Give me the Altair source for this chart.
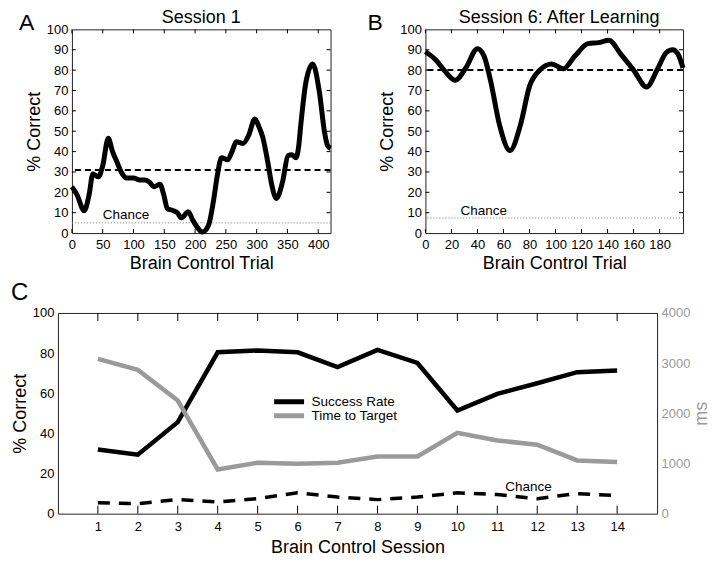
import altair as alt
import pandas as pd

FONT = "Liberation Sans"
GRAY = "#9a9a9a"
AXGRAY = "#9a9a9a"

# ---------------- Panel A: Session 1 ----------------
a_trial = [0, 8, 20, 28, 34, 43, 50, 59, 66, 73, 80, 89, 100, 110, 119, 126, 133, 143, 149, 155,
           165, 171, 178, 189, 196, 202, 212, 222, 230, 236, 243, 253, 260, 267, 278, 287, 297, 304, 310, 318,
           325, 332, 342, 351, 357, 364, 368, 372, 380, 391, 402, 410, 415, 420]
a_pct = [22.7, 19, 11, 19, 29, 27.6, 33, 46.5, 40, 35, 30, 27, 27, 26, 26, 25, 22.7, 24, 19, 12,
         11, 10, 7.5, 10.5, 6.5, 3.5, 0.5, 4, 16, 28, 37, 36, 40, 44.8, 44, 48, 56, 52, 47, 35,
         23, 17, 25, 38, 38.5, 37, 42, 54, 74, 83, 69, 50, 43, 41.5]
a_criterion = [31]
a_chance = [5]
a_xticks = [0, 50, 100, 150, 200, 250, 300, 350, 400]

# ---------------- Panel B: Session 6 ----------------
b_trial = [0, 8, 15, 23, 31, 40, 45, 50, 57, 65, 73, 80, 88, 97, 106, 115, 125, 133, 141, 150,
           160, 170, 178, 185, 190, 194, 198]
b_pct = [89, 85, 79.5, 75, 81, 90.5, 87, 75, 53, 40.5, 53, 72, 80, 83, 80.7, 87, 93, 93.5, 94.6, 88,
         80, 71.7, 80, 88.5, 90, 88, 81]
b_criterion = [80]
b_chance = [7.4]
b_xticks = [0, 20, 40, 60, 80, 100, 120, 140, 160, 180]

pct_ticks = [0, 10, 20, 30, 40, 50, 60, 70, 80, 90, 100]

# ---------------- Panel C: across sessions ----------------
sessions = [1, 2, 3, 4, 5, 6, 7, 8, 9, 10, 11, 12, 13, 14]
success_rate = [32, 29.4, 45.6, 80.4, 81.3, 80.4, 73, 81.6, 75.1, 51.4, 59.7, 65, 70.5, 71.3]
time_to_target = [3085, 2866, 2255, 882, 1015, 995, 1015, 1141, 1141, 1612, 1459, 1373, 1061, 1028]
chance_c = [5.5, 5, 7.1, 5.8, 7.5, 10.4, 8.3, 7, 8.3, 10.4, 9.5, 7.5, 10, 9]
series_names = ["Success Rate", "Time to Target"]
series_colors = ["black", GRAY]
c_left_ticks = [0, 20, 40, 60, 80, 100]
c_right_ticks = [0, 1000, 2000, 3000, 4000]


def label_layer(text, x, y, size, align="left", baseline="top"):
    return alt.Chart(pd.DataFrame({"t": [text]})).mark_text(
        align=align, baseline=baseline, fontSize=size, color="black"
    ).encode(text="t:N", x=alt.value(x), y=alt.value(y))


def trial_panel(trials, pct, crit, chance, xmax, xticks, letter, letter_dx, title, title_dx,
                chance_t, chance_v, W, H):
    xs = alt.Scale(domain=[0, xmax], nice=False, zero=False)
    ys = alt.Scale(domain=[0, 100], nice=False, zero=False)
    xax = alt.Axis(values=xticks, title="Brain Control Trial", ticks=False, tickSize=0, domain=False,
                   grid=False, labelPadding=5, titlePadding=3, labelFlush=False, labelOverlap=False,
                   labelFontSize=13, titleFontSize=18)
    yax = alt.Axis(values=pct_ticks, title="% Correct", ticks=False, tickSize=0, domain=False,
                   grid=False, labelPadding=4, titlePadding=3, labelFlush=False, labelOverlap=False,
                   labelFontSize=13, titleFontSize=18)
    X = alt.X("trial:Q", scale=xs, axis=xax)
    Y = alt.Y("pct:Q", scale=ys, axis=yax)
    df = pd.DataFrame({"trial": trials, "pct": pct})
    curve = alt.Chart(df).mark_line(color="black", strokeWidth=5, interpolate="monotone",
                                    strokeJoin="round").encode(x=X, y=Y)
    crit_rule = alt.Chart(pd.DataFrame({"pct": crit})).mark_rule(
        color="black", strokeWidth=2, strokeDash=[6, 4]).encode(y=Y)
    chance_rule = alt.Chart(pd.DataFrame({"pct": chance})).mark_rule(
        color="#777777", strokeWidth=1, strokeDash=[1, 2]).encode(y=Y)
    chance_txt = alt.Chart(pd.DataFrame({"trial": [chance_t], "pct": [chance_v], "t": ["Chance"]})).mark_text(
        align="left", baseline="alphabetic", fontSize=13.5, color="black").encode(x=X, y=Y, text="t:N")
    xt = pd.DataFrame({"trial": xticks})
    yt = pd.DataFrame({"pct": pct_ticks[1:-1]})
    tb = alt.Chart(xt).mark_rule(color="black", strokeWidth=1).encode(
        x=X, y=alt.value(H), y2=alt.value(H - 4))
    tt = alt.Chart(xt).mark_rule(color="black", strokeWidth=1).encode(
        x=X, y=alt.value(0), y2=alt.value(4))
    tl = alt.Chart(yt).mark_rule(color="black", strokeWidth=1).encode(
        y=Y, x=alt.value(0), x2=alt.value(4))
    tr = alt.Chart(yt).mark_rule(color="black", strokeWidth=1).encode(
        y=Y, x=alt.value(W - 4), x2=alt.value(W))
    return alt.layer(chance_rule, crit_rule, tb, tt, tl, tr, curve, chance_txt,
                     label_layer(letter, letter_dx, -17, 23),
                     label_layer(title, W / 2 + title_dx, -6, 18, align="center", baseline="alphabetic")
                     ).properties(width=W, height=H)


panel_a = trial_panel(a_trial, a_pct, a_criterion, a_chance, 420, a_xticks, "A", -53, "Session 1", 0,
                      50, 7, 259, 204)
panel_b = trial_panel(b_trial, b_pct, b_criterion, b_chance, 198, b_xticks, "B", -58,
                      "Session 6: After Learning", 5, 27, 8.8, 258, 204)

# ---------------- Panel C ----------------
CW, CH = 600, 201
c_x = alt.Scale(domain=[0, 15], nice=False, zero=False)
c_yl = alt.Scale(domain=[0, 100], nice=False, zero=False)
c_yr = alt.Scale(domain=[0, 4000], nice=False, zero=False)
c_xax = alt.Axis(values=sessions, title="Brain Control Session", ticks=False, tickSize=0, domain=False,
                 grid=False, labelPadding=7, titlePadding=5, labelFlush=False, labelOverlap=False,
                 labelFontSize=13, titleFontSize=18)
c_ylax = alt.Axis(values=c_left_ticks, title="% Correct", ticks=False, tickSize=0, domain=False, grid=False,
                  labelPadding=4, titlePadding=3, labelFlush=False, labelOverlap=False,
                  labelFontSize=13, titleFontSize=18)
c_yrax = alt.Axis(orient="right", values=c_right_ticks, title="ms", format="d", ticks=False, tickSize=0,
                  domain=False, grid=False, labelPadding=4, titlePadding=3, labelFlush=False,
                  labelOverlap=False, labelFontSize=13, titleFontSize=18, labelColor=AXGRAY,
                  titleColor=AXGRAY, titleAngle=270, titleBaseline="top")
series_scale = alt.Scale(domain=series_names, range=series_colors)
leg = alt.Legend(orient="none", legendX=214, legendY=366, title=None, symbolType="stroke", symbolSize=900,
                 symbolStrokeWidth=5, labelFontSize=13.5, labelOffset=5, rowPadding=0, clipHeight=14,
                 padding=0, labelColor="black", labelFont=FONT)

CX = alt.X("session:Q", scale=c_x, axis=c_xax)
CYL = alt.Y("val:Q", scale=c_yl, axis=c_ylax)

df_s = pd.DataFrame({"session": sessions, "val": success_rate, "series": series_names[0]})
df_t = pd.DataFrame({"session": sessions, "val": time_to_target, "series": series_names[1]})
df_ch = pd.DataFrame({"session": sessions, "val": chance_c})

succ = alt.Chart(df_s).mark_line(strokeWidth=4.5).encode(
    x=CX, y=CYL, color=alt.Color("series:N", scale=series_scale, legend=leg))
ch_line = alt.Chart(df_ch).mark_line(strokeWidth=3.5, strokeDash=[12, 9], color="black").encode(x=CX, y=CYL)
ch_txt = alt.Chart(pd.DataFrame({"session": [11.2], "val": [11.1], "t": ["Chance"]})).mark_text(
    align="left", baseline="alphabetic", fontSize=13.5, color="black").encode(x=CX, y=CYL, text="t:N")
st = pd.DataFrame({"session": sessions})
c_tb = alt.Chart(st).mark_rule(color="black", strokeWidth=1).encode(
    x=CX, y=alt.value(CH), y2=alt.value(CH - 8))
c_tt = alt.Chart(st).mark_rule(color="black", strokeWidth=1).encode(
    x=CX, y=alt.value(0), y2=alt.value(8))
c_let = label_layer("C", -47, -32, 24)
left_group = alt.layer(c_tb, c_tt, ch_line, succ, ch_txt, c_let)
time_line = alt.Chart(df_t).mark_line(strokeWidth=4.5).encode(
    x=CX, y=alt.Y("val:Q", scale=c_yr, axis=c_yrax),
    color=alt.Color("series:N", scale=series_scale, legend=leg))
panel_c = alt.layer(left_group, time_line).resolve_scale(y="independent").properties(width=CW, height=CH)


def spacer(w):
    return alt.Chart(pd.DataFrame({"v": [0]})).mark_point(opacity=0, size=0).encode(
        x=alt.X("v:Q", axis=None), y=alt.Y("v:Q", axis=None)).properties(
        width=w, height=1, view=alt.ViewBackground(strokeOpacity=0))


top_row = alt.hconcat(spacer(14), panel_a, spacer(95), panel_b, spacing=0, bounds="flush")
chart = alt.concat(top_row, panel_c, columns=1, spacing=7, align="none").properties(
    padding={"left": 2, "top": 0, "right": 0, "bottom": -2}).configure(font=FONT).configure_view(
    stroke="#222222", strokeWidth=1).configure_axis(
    labelColor="black", titleColor="black", titleFontWeight="normal", labelFont=FONT, titleFont=FONT
).configure_text(font=FONT)

chart.save("out.html", embed_options={"renderer": "svg", "actions": False})
